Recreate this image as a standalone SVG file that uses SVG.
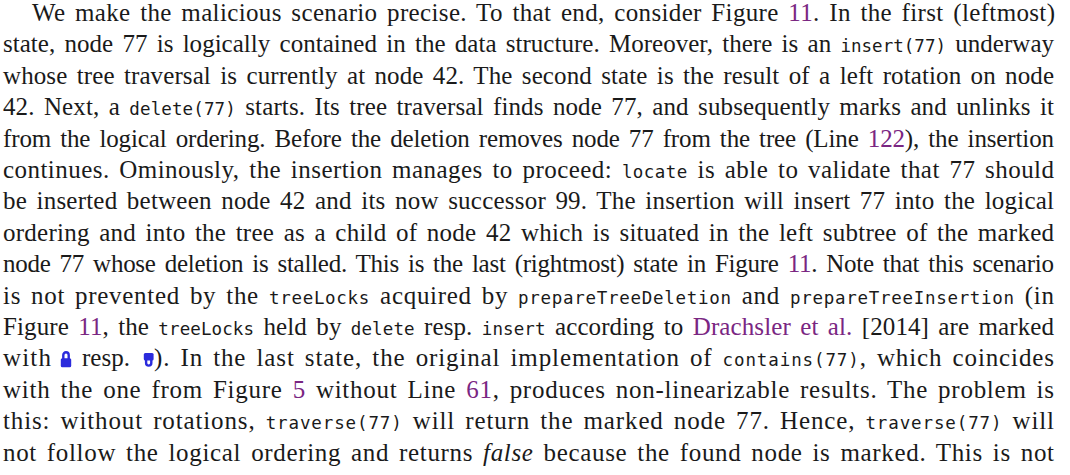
<svg xmlns="http://www.w3.org/2000/svg" width="1070" height="475" viewBox="0 0 1070 475">
<style>
text{font-family:"Liberation Serif","Times New Roman",serif;font-size:25px;word-spacing:3px;fill:#1a1a1a}
.m{font-family:"DejaVu Sans Mono","Liberation Mono",monospace;font-size:17.5px;word-spacing:0}
.l{fill:#7a2682}
.i{font-style:italic}
.lk{fill:#2b2bdc}
.sh{fill:none;stroke:#2b2bdc;stroke-width:2.4}
</style>
<rect width="1070" height="475" fill="#ffffff"/>
<g id="paragraph">
<text x="32" y="21" textLength="1023" lengthAdjust="spacing">We make the malicious scenario precise. To that end, consider Figure <tspan class="l">11</tspan>. In the first (leftmost)</text>
<text x="3" y="52.4" textLength="1051" lengthAdjust="spacing">state, node 77 is logically contained in the data structure. Moreover, there is an <tspan class="m">insert(77)</tspan> underway</text>
<text x="3" y="83.8" textLength="1051" lengthAdjust="spacing">whose tree traversal is currently at node 42. The second state is the result of a left rotation on node</text>
<text x="3" y="115.2" textLength="1051" lengthAdjust="spacing">42. Next, a <tspan class="m">delete(77)</tspan> starts. Its tree traversal finds node 77, and subsequently marks and unlinks it</text>
<text x="3" y="146.6" textLength="1051" lengthAdjust="spacing">from the logical ordering. Before the deletion removes node 77 from the tree (Line <tspan class="l">122</tspan>), the insertion</text>
<text x="3" y="178" textLength="1051" lengthAdjust="spacing">continues. Ominously, the insertion manages to proceed: <tspan class="m">locate</tspan> is able to validate that 77 should</text>
<text x="3" y="209.4" textLength="1051" lengthAdjust="spacing">be inserted between node 42 and its now successor 99. The insertion will insert 77 into the logical</text>
<text x="3" y="240.8" textLength="1051" lengthAdjust="spacing">ordering and into the tree as a child of node 42 which is situated in the left subtree of the marked</text>
<text x="3" y="272.2" textLength="1051" lengthAdjust="spacing">node 77 whose deletion is stalled. This is the last (rightmost) state in Figure <tspan class="l">11</tspan>. Note that this scenario</text>
<text x="3" y="303.6" textLength="1051" lengthAdjust="spacing">is not prevented by the <tspan class="m">treeLocks</tspan> acquired by <tspan class="m">prepareTreeDeletion</tspan> and <tspan class="m">prepareTreeInsertion</tspan> (in</text>
<text x="3" y="335" textLength="1051" lengthAdjust="spacing">Figure <tspan class="l">11</tspan>, the <tspan class="m">treeLocks</tspan> held by <tspan class="m">delete</tspan> resp. <tspan class="m">insert</tspan> according to <tspan class="l">Drachsler et al.</tspan> [2014] are marked</text>
<text x="3" y="366.4" textLength="48" lengthAdjust="spacing">with</text>
<text x="82" y="366.4" textLength="48" lengthAdjust="spacing">resp.</text>
<text x="154" y="366.4" textLength="900" lengthAdjust="spacing">). In the last state, the original implementation of <tspan class="m">contains(77)</tspan>, which coincides</text>
<text x="3" y="397.8" textLength="1051" lengthAdjust="spacing">with the one from Figure <tspan class="l">5</tspan> without Line <tspan class="l">61</tspan>, produces non-linearizable results. The problem is</text>
<text x="3" y="429.2" textLength="1051" lengthAdjust="spacing">this: without rotations, <tspan class="m">traverse(77)</tspan> will return the marked node 77. Hence, <tspan class="m">traverse(77)</tspan> will</text>
<text x="3" y="460.6" textLength="1051" lengthAdjust="spacing">not follow the logical ordering and returns <tspan class="i">false</tspan> because the found node is marked. This is not</text>
</g>
<g id="lock-delete">
<path class="sh" d="M63.3 359 V355 A2.7 2.7 0 0 1 68.7 355 V359"/>
<rect class="lk" x="60.8" y="358.3" width="10.4" height="9" rx="1.5"/>
</g>
<g id="lock-insert">
<rect class="lk" x="143.8" y="353" width="9.8" height="7.6" rx="1.5"/>
<path class="sh" d="M146.1 360 V363 A2.6 2.6 0 0 0 151.3 363 V360"/>
</g>
</svg>
